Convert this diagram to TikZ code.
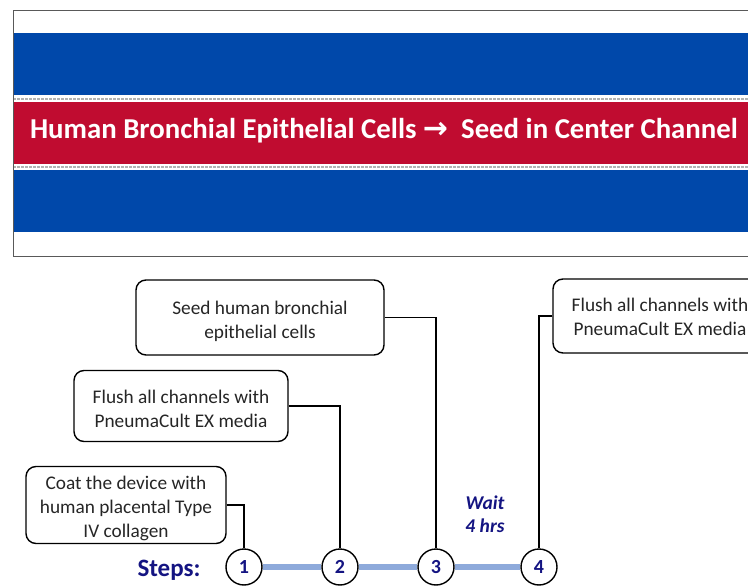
\documentclass[tikz,border=0pt]{standalone}
\usepackage{fontspec}
\setmainfont{Carlito}
\newfontfamily\arrowfont{DejaVu Sans}
\definecolor{chanblue}{RGB}{0,72,170}
\definecolor{chanred}{RGB}{192,12,48}
\definecolor{lineblue}{RGB}{142,170,219}
\definecolor{navy}{RGB}{20,20,130}
\tikzset{
  stepbox/.style={draw=black, line width=1.4pt, rounded corners=10pt, fill=white, inner sep=0pt},
  boxtext/.style={align=center, font=\fontsize{19.3}{24}\selectfont, text=black!85, inner sep=0pt},
  stepcircle/.style={draw=black, line width=1.4pt, circle, fill=white, minimum size=36pt, inner sep=0pt, font=\bfseries\fontsize{20}{22}\selectfont, text=navy},
  conn/.style={draw=black, line width=1.2pt},
  dashstrip/.style={draw=gray!60, line width=2pt, dash pattern=on 3pt off 1pt}
}
\begin{document}
\begin{tikzpicture}[x=1pt,y=-1pt]
\useasboundingbox (0,0) rectangle (748,586);
\clip (0,0) rectangle (748,586);
% channel diagram
\fill[chanblue] (13,33) rectangle (760,95);
\fill[chanred] (13,102) rectangle (760,164);
\fill[chanblue] (13,170) rectangle (760,232);
\draw[dashstrip] (13,99.5) -- (760,99.5);
\draw[dashstrip] (13,166.5) -- (760,166.5);
\draw[gray!70!black, line width=0.8pt] (13,10) rectangle (800,256);
\node[text=white, font=\bfseries\fontsize{28.8}{32}\selectfont] (title) at (384,131) {Human Bronchial Epithelial Cells {\arrowfont\bfseries\fontsize{30}{32}\selectfont →}\ \ Seed in Center Channel};
% timeline
\node[stepcircle] (c1) at (244,567) {1};
\node[stepcircle] (c2) at (340,567) {2};
\node[stepcircle] (c3) at (436,567) {3};
\node[stepcircle] (c4) at (539,567) {4};
\draw[lineblue, line width=6pt] (c1) -- (c2);
\draw[lineblue, line width=6pt] (c2) -- (c3);
\draw[lineblue, line width=6pt] (c3) -- (c4);
\node[text=navy, font=\bfseries\fontsize{25}{28}\selectfont] (steps) at (169,570) {Steps:};
\node[text=navy, font=\bfseries\itshape\fontsize{19.5}{23}\selectfont, align=center] (wait) at (485,514) {Wait\\4 hrs};
% boxes
\node[stepbox, minimum width=248pt, minimum height=75pt] (bA) at (260,317.5) {};
\node[boxtext, yshift=-4pt] (tA) at (bA.center) {Seed human bronchial\\epithelial cells};
\node[stepbox, minimum width=214pt, minimum height=71pt] (bB) at (181,406) {};
\node[boxtext, yshift=-2.5pt] (tB) at (bB.center) {Flush all channels with\\PneumaCult EX media};
\node[stepbox, minimum width=200pt, minimum height=77pt] (bC) at (126,505) {};
\node[boxtext, yshift=-3.5pt] (tC) at (bC.center) {Coat the device with\\human placental Type\\IV collagen};
\node[stepbox, minimum width=214pt, minimum height=74pt] (bD) at (660,316) {};
\node[boxtext, yshift=-1pt] (tD) at (bD.center) {Flush all channels with\\PneumaCult EX media};
% connectors
\draw[conn] (bC.east) -| (c1.north);
\draw[conn] (bB.east) -| (c2.north);
\draw[conn] (bA.east) -| (c3.north);
\draw[conn] (bD.west) -| (c4.north);
\end{tikzpicture}
\end{document}
